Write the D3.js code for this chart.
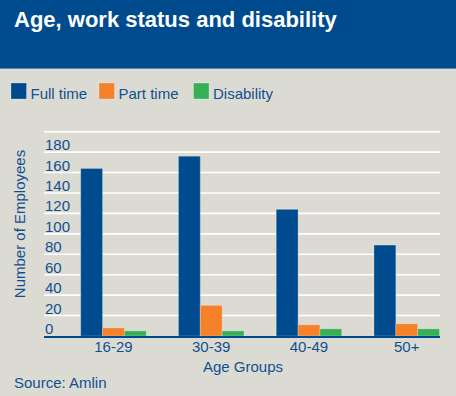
<!DOCTYPE html>
<html>
<head>
<meta charset="utf-8">
<script src="https://cdn.jsdelivr.net/npm/d3@7"></script>
<style>
  body { margin: 0; background: #dcdbd3; }
  svg { display: block; font-family: "Liberation Sans", Arial, sans-serif; }
</style>
</head>
<body>
<svg width="456" height="396"></svg>
<script>
//	chart data
var ageGroups = ["16-29", "30-39", "40-49", "50+"];
var seriesNames = ["Full time", "Part time", "Disability"];
var fullTime = [164, 176, 124, 89];
var partTime = [8, 30, 11, 12];
var disability = [5, 5, 7, 7];
var yTicks = [0, 20, 40, 60, 80, 100, 120, 140, 160, 180];

var colors = ["#004b8d", "#f5822a", "#35b056"];
var textCol = "#114f91";

var svg = d3.select("svg");
var W = 456, H = 396;

svg.append("rect").attr("width", W).attr("height", H).attr("fill", "#dcdbd3");

//	header band
svg.append("rect").attr("width", W).attr("height", 68).attr("fill", "#004b8d");
svg.append("rect").attr("y", 68).attr("width", W).attr("height", 1).attr("fill", "#5c86b8");
svg.append("text")
	.attr("x", 14).attr("y", 27)
	.attr("fill", "#fff")
	.style("font-size", "22px").style("font-weight", "bold")
	.text("Age, work status and disability");

//	legend
var legend = svg.append("g").attr("transform", "translate(11,83)");
var legX = [0, 88, 182.5];
seriesNames.forEach(function(name, i) {
	var lg = legend.append("g").attr("transform", "translate(" + legX[i] + ",0)");
	lg.append("rect").attr("width", 15.5).attr("height", 16).attr("fill", colors[i])
		.attr("stroke", "#fff").attr("stroke-opacity", 0.25);
	lg.append("text").attr("x", 19.5).attr("y", 16)
		.attr("fill", textCol).style("font-size", "15px").text(name);
});

//	plot area
var x0 = 44, x1 = 440, yBase = 336, yTop = 131.7;
var x = d3.scaleBand().domain(ageGroups).range([80.7, 439.5]).paddingInner(0.33).paddingOuter(0);
var xs = d3.scaleBand().domain(seriesNames).range([0, x.bandwidth()]);
var y = d3.scaleLinear().domain([0, 200]).range([yBase, yTop]);

var g = svg.append("g");

//	gridlines
g.selectAll(".grid")
	.data(d3.range(20, 201, 20))
	.enter().append("line")
		.attr("x1", x0).attr("x2", x1)
		.attr("y1", function(d) { return y(d); })
		.attr("y2", function(d) { return y(d); })
		.attr("stroke", "#fff").attr("stroke-width", 1.6);

//	y tick labels sit above their gridline
g.selectAll(".ylab")
	.data(yTicks)
	.enter().append("text")
		.attr("x", 45)
		.attr("y", function(d) { return y(d) - 2; })
		.attr("fill", textCol).style("font-size", "15px")
		.text(function(d) { return d; });

//	bars
var table = ageGroups.map(function(a, i) {
	return { group: a, values: [fullTime[i], partTime[i], disability[i]] };
});
var groups = g.selectAll(".grp")
	.data(table)
	.enter().append("g")
		.attr("transform", function(d) { return "translate(" + x(d.group) + ",0)"; });
groups.selectAll("rect")
	.data(function(d) { return d.values.map(function(v, i) { return { s: seriesNames[i], v: v, i: i }; }); })
	.enter().append("rect")
		.attr("x", function(d) { return xs(d.s); })
		.attr("width", xs.bandwidth())
		.attr("y", function(d) { return y(d.v); })
		.attr("height", function(d) { return yBase - y(d.v); })
		.attr("fill", function(d) { return colors[d.i]; })
		.attr("stroke", "#fff").attr("stroke-opacity", 0.25).attr("stroke-width", 1);

//	x axis line
g.append("line")
	.attr("x1", x0).attr("x2", x1)
	.attr("y1", yBase + 1).attr("y2", yBase + 1)
	.attr("stroke", "#004b8d").attr("stroke-width", 2);

//	x tick labels
g.selectAll(".xlab")
	.data(ageGroups)
	.enter().append("text")
		.attr("x", function(d) { return x(d) + x.bandwidth() / 2; })
		.attr("y", 352)
		.attr("text-anchor", "middle")
		.attr("fill", textCol).style("font-size", "15px")
		.text(function(d) { return d; });

//	axis titles
svg.append("text")
	.attr("x", 243).attr("y", 372)
	.attr("text-anchor", "middle")
	.attr("fill", textCol).style("font-size", "15px")
	.text("Age Groups");
svg.append("text")
	.attr("transform", "translate(25,224) rotate(-90)")
	.attr("text-anchor", "middle")
	.attr("fill", textCol).style("font-size", "15px")
	.text("Number of Employees");

svg.append("text")
	.attr("x", 14).attr("y", 388)
	.attr("fill", textCol).style("font-size", "15px")
	.text("Source: Amlin");
</script>
</body>
</html>
